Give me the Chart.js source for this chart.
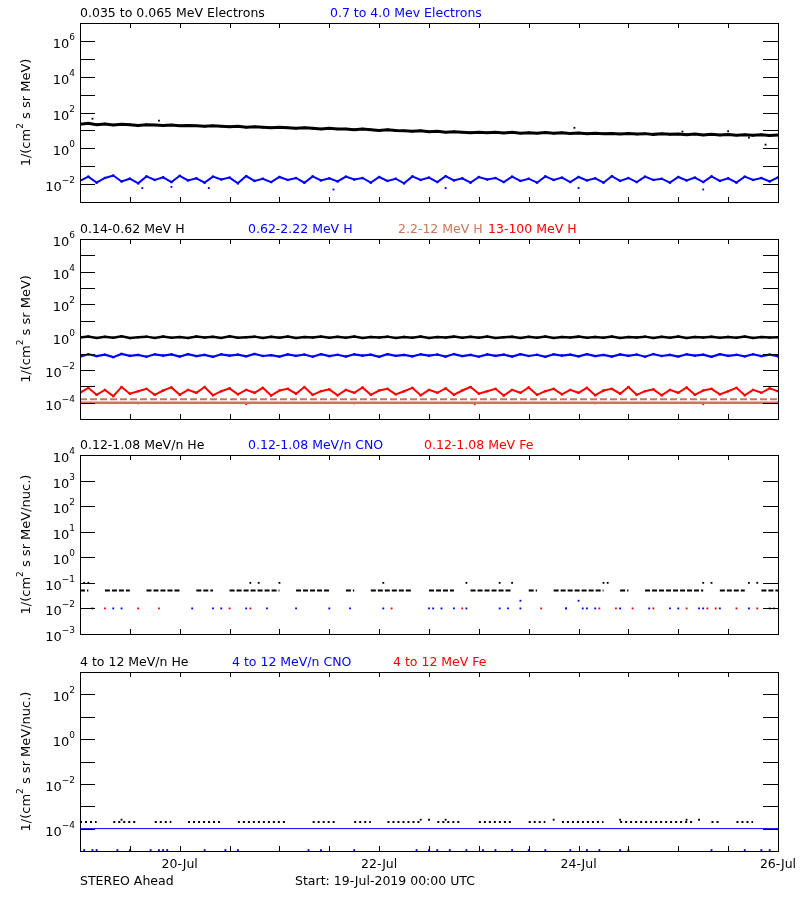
<!DOCTYPE html>
<html lang="en">
<head>
<meta charset="UTF-8">
<title>STEREO Ahead particle fluxes</title>
<script src="https://cdn.jsdelivr.net/npm/chart.js"></script>
<style>
  body { margin: 0; background: #fff; width: 800px; height: 900px; position: relative; overflow: hidden; }
  canvas { position: absolute; left: 0; }
</style>
</head>
<body>
<script>
// ---- data (hours since 19-Jul-2019 00:00 UTC, flux values) ----
const xTickHours = [24, 72, 120, 168];
const xTickLabels = ['20-Jul', '22-Jul', '24-Jul', '26-Jul'];

// panel 1: electrons, samples every 2 h
const e1Black = [22,25,21,23,20,22,21,19,21,20,19,20,18,19,18,17,18,17,16,17,15,16,15,14,15,14,13,14,13,12,13,12,12,11,12,11,10,11,10,9.5,9,9.5,8.5,9,8,8.5,8,7.5,8,7.4,8,7.2,7.8,7,7.5,7,7.6,7,7.4,6.8,7.2,6.6,7,6.5,6.8,6.3,6.7,6.2,6.6,6,6.4,6,6.3,5.8,6.2,5.6,6,5.5,5.9,5.4,5.8,5.3,5.7,5.2,5.5];
const e1Blue = [0.015,0.026,0.012,0.022,0.03,0.014,0.02,0.011,0.027,0.017,0.024,0.013,0.029,0.016,0.021,0.012,0.026,0.018,0.023,0.011,0.028,0.015,0.02,0.013,0.025,0.017,0.022,0.012,0.027,0.016,0.021,0.014,0.026,0.018,0.022,0.012,0.025,0.015,0.02,0.011,0.027,0.017,0.023,0.013,0.028,0.016,0.021,0.012,0.025,0.018,0.022,0.013,0.026,0.015,0.02,0.012,0.027,0.017,0.023,0.013,0.025,0.016,0.021,0.012,0.028,0.015,0.022,0.013,0.026,0.017,0.02,0.012,0.025,0.016,0.023,0.013,0.027,0.015,0.021,0.012,0.026,0.017,0.022,0.014,0.024];
const e1BlackOutliers = [[3,45],[19,35],[72,10],[119,14],[145,8.5],[156,9],[165,1.6],[161,4]];
const e1BlueOutliers = [[15,0.006],[22,0.007],[31,0.006],[61,0.005],[88,0.006],[120,0.006],[150,0.005]];

// panel 2: protons
const hBlack = [0.95,1.1,0.9,1.05,0.92,1.12,0.88,1.0,1.08,0.9,1.1,0.93,1.02,0.89,1.1,0.95,1.05,0.9,1.12,0.92,1.0,1.08,0.9,1.05,0.94,1.1,0.89,1.02,0.95,1.09,0.91,1.05,0.93,1.1,0.9,1.03,0.96,1.08,0.9,1.04,0.93,1.1,0.89,1.02,0.95,1.08,0.91,1.05,0.94,1.1,0.9,1.0,1.07,0.9,1.05,0.93,1.1,0.9,1.03,0.95,1.08,0.91,1.04,0.94,1.1,0.9,1.02,0.96,1.08,0.9,1.05,0.93,1.1,0.89,1.03,0.95,1.07,0.91,1.04,0.94,1.09,0.9,1.02,0.95,1.0];
const hBlue = [0.065,0.09,0.07,0.085,0.06,0.095,0.072,0.082,0.064,0.09,0.075,0.088,0.066,0.092,0.07,0.083,0.063,0.09,0.074,0.086,0.068,0.094,0.071,0.08,0.065,0.089,0.073,0.087,0.064,0.091,0.07,0.084,0.066,0.09,0.075,0.085,0.063,0.092,0.072,0.082,0.067,0.09,0.074,0.087,0.065,0.093,0.07,0.083,0.064,0.089,0.073,0.086,0.066,0.091,0.071,0.084,0.063,0.09,0.075,0.086,0.067,0.092,0.07,0.082,0.065,0.089,0.073,0.087,0.064,0.093,0.071,0.083,0.066,0.09,0.074,0.085,0.063,0.091,0.072,0.084,0.067,0.09,0.07,0.086,0.068];
const hRed = [0.0004,0.0008,0.0003,0.0006,0.00025,0.0009,0.00035,0.0005,0.0007,0.0003,0.00055,0.00085,0.0003,0.0006,0.0004,0.0009,0.00028,0.0005,0.00075,0.00032,0.0006,0.0004,0.0008,0.00027,0.00055,0.0007,0.00035,0.0009,0.0003,0.0005,0.00065,0.00028,0.0006,0.0004,0.00085,0.0003,0.00055,0.0007,0.00032,0.0005,0.0008,0.00028,0.0006,0.0004,0.00075,0.0003,0.00055,0.0009,0.00035,0.0005,0.0007,0.00027,0.0006,0.0004,0.00085,0.0003,0.0005,0.0007,0.00032,0.0006,0.0004,0.0008,0.00028,0.00055,0.0007,0.00035,0.0009,0.0003,0.0005,0.00065,0.00028,0.0006,0.0004,0.00085,0.0003,0.00055,0.0007,0.00032,0.0005,0.0008,0.00028,0.0006,0.0004,0.00075,0.0005];
const hBrownLow = 0.0001;
const hBrownHigh = 0.00016;
const hRedOutliers = [[14,0.00009],[40,0.00008],[66,0.00009],[95,0.00008],[124,0.00009],[150,0.00008]];

// panel 3: 0.12-1.08 MeV/n heavy ions (null = no data)
const lowHe = [0.05,0.05,null,0.05,0.05,0.05,0.05,null,0.05,0.05,0.05,0.05,0.05,null,0.05,0.05,0.05,null,0.05,0.05,0.05,0.05,0.05,0.05,0.05,null,0.05,0.05,0.05,0.05,0.05,null,0.05,0.05,null,0.05,0.05,0.05,0.05,0.05,0.05,null,0.05,0.05,0.05,0.05,null,0.05,0.05,0.05,0.05,0.05,0.05,null,0.05,0.05,null,0.05,0.05,0.05,0.05,0.05,0.05,0.05,null,0.05,0.05,null,0.05,0.05,0.05,0.05,0.05,0.05,0.05,0.05,null,0.05,0.05,0.05,0.05,null,0.05,0.05,0.05];
const lowHeHigh = [1,2,41,43,48,73,93,101,104,126,127,150,152,161,163,175];
const lowCnoHours = [3,8,10,27,32,34,40,45,52,60,65,73,84,85,87,90,93,101,103,106,117,121,122,124,130,137,142,144,149,150,154,161,166];
const lowCnoHigh = [106,120];
const lowFeHours = [6,14,19,36,41,75,92,111,117,125,129,133,138,146,151,153,158,163,167];

// panel 4: 4-12 MeV/n heavy ions
const hiHe = [0.0002,0.0002,0.0002,null,0.0002,0.0002,0.0002,0.0002,null,0.0002,0.0002,0.0002,null,0.0002,0.0002,0.0002,0.0002,0.0002,null,0.0002,0.0002,0.0002,0.0002,0.0002,0.0002,0.0002,null,null,0.0002,0.0002,0.0002,0.0002,null,0.0002,0.0002,0.0002,null,0.0002,0.0002,0.0002,0.0002,0.0002,null,0.0002,0.0002,0.0002,0.0002,null,0.0002,0.0002,0.0002,0.0002,0.0002,null,0.0002,0.0002,0.0002,null,0.0002,0.0002,0.0002,0.0002,0.0002,0.0002,null,0.0002,0.0002,0.0002,0.0002,0.0002,0.0002,0.0002,0.0002,0.0002,0.0002,null,0.0002,0.0002,null,0.0002,0.0002,0.0002,null,0.0002,null];
const hiHeHigh = [10,82,84,88,114,130,146,149];
const hiCnoLine = 0.0001;
const hiCnoLowHours = [1,3,4,9,12,17,19,20,21,30,35,38,55,58,66,81,84,86,89,93,97,100,104,108,112,118,122,125,130,132,152,160,164,166];
const hiCnoLowValue = 0.000011;
</script>
<script>
const FONT = '"DejaVu Sans", sans-serif';
const PANELS = [
  { top: 23, bottom: 202, min: 1e-3, max: 1e7, ticks: [-3,-2,-1,0,1,2,3,4,5,6,7], labels: [-2,0,2,4,6], unit: 'MeV' },
  { top: 239, bottom: 419, min: 1e-5, max: 1e6, ticks: [-5,-4,-3,-2,-1,0,1,2,3,4,5,6], labels: [-4,-2,0,2,4,6], unit: 'MeV' },
  { top: 455, bottom: 634, min: 1e-3, max: 1e4, ticks: [-3,-2,-1,0,1,2,3,4], labels: [-3,-2,-1,0,1,2,3,4], unit: 'MeV/nuc.' },
  { top: 672, bottom: 851, min: 1e-5, max: 1e3, ticks: [-5,-4,-3,-2,-1,0,1,2,3], labels: [-4,-2,0,2], unit: 'MeV/nuc.' }
];
const LEFT = 80, RIGHT = 777, PAD = 30;
const step = 168 / (e1Black.length - 1);
const series = arr => arr.map((v, i) => ({ x: i * step, y: v }));
const pts = list => list.map(p => ({ x: p[0], y: p[1] }));
const at = (hours, v) => hours.map(h => ({ x: h, y: v }));

function supText(ctx, exp, xr, y) {
  const e = exp < 0 ? '\u2212' + (-exp) : String(exp);
  ctx.textAlign = 'left';
  ctx.textBaseline = 'alphabetic';
  ctx.font = '9px ' + FONT;
  const we = ctx.measureText(e).width;
  ctx.fillText(e, xr - we, y - 1);
  ctx.font = '13px ' + FONT;
  const wb = ctx.measureText('10').width;
  ctx.fillText('10', xr - we - wb, y + 7);
}

const frame = {
  id: 'frame',
  afterDraw(chart) {
    const ctx = chart.ctx, a = chart.chartArea, xs = chart.scales.x, ys = chart.scales.y;
    const p = chart.options.plugins.frame;
    ctx.save();
    ctx.strokeStyle = '#000'; ctx.fillStyle = '#000'; ctx.lineWidth = 1;
    ctx.strokeRect(a.left + 0.5, a.top + 0.5, a.right - a.left, a.bottom - a.top);
    ctx.beginPath();
    for (let h = 12; h < 168; h += 12) {
      const x = Math.round(xs.getPixelForValue(h)) + 0.5;
      ctx.moveTo(x, a.bottom); ctx.lineTo(x, a.bottom - 5);
      ctx.moveTo(x, a.top); ctx.lineTo(x, a.top + 5);
    }
    p.ticks.forEach(e => {
      const y = Math.round(ys.getPixelForValue(Math.pow(10, e))) + 0.5;
      if (y <= a.top + 1 || y >= a.bottom - 1) return;
      ctx.moveTo(a.left, y); ctx.lineTo(a.left + 15, y);
      ctx.moveTo(a.right, y); ctx.lineTo(a.right - 15, y);
    });
    ctx.stroke();
    p.labels.forEach(e => supText(ctx, e, a.left - 5, ys.getPixelForValue(Math.pow(10, e))));
    // y axis title
    ctx.save();
    ctx.translate(26, (a.top + a.bottom) / 2);
    ctx.rotate(-Math.PI / 2);
    ctx.textAlign = 'left';
    ctx.font = '13px ' + FONT;
    const t1 = '1/(cm', t2 = ' s sr ' + p.unit + ')';
    const w1 = ctx.measureText(t1).width, w2 = ctx.measureText(t2).width;
    ctx.font = '9px ' + FONT;
    const ws = ctx.measureText('2').width;
    const x0 = -(w1 + ws + w2) / 2;
    ctx.font = '13px ' + FONT;
    ctx.fillText(t1, x0, 4);
    ctx.font = '9px ' + FONT;
    ctx.fillText('2', x0 + w1, -3);
    ctx.font = '13px ' + FONT;
    ctx.fillText(t2, x0 + w1 + ws, 4);
    ctx.restore();
    // titles
    ctx.font = '12.5px ' + FONT; ctx.textAlign = 'left';
    p.titles.forEach(t => { ctx.fillStyle = t[2]; ctx.fillText(t[0], t[1], a.top - 6); });
    if (p.xlabels) {
      ctx.fillStyle = '#000'; ctx.textAlign = 'center';
      xTickHours.forEach((h, i) => ctx.fillText(xTickLabels[i], xs.getPixelForValue(h), a.bottom + 17));
      ctx.textAlign = 'left';
      ctx.fillText('STEREO Ahead', 80, a.bottom + 34);
      ctx.fillText('Start: 19-Jul-2019 00:00 UTC', 295, a.bottom + 34);
    }
    ctx.restore();
  }
};

const line = (data, color, w, extra) => Object.assign({ type: 'line', data, borderColor: color, borderWidth: w, pointRadius: 0, spanGaps: false, tension: 0 }, extra || {});
const band = (data, color, w) => line(data, color, w, { pointRadius: 1.6, pointStyle: 'rect', backgroundColor: color, pointBorderWidth: 0 });
const dots = (data, color, r) => ({ type: 'scatter', data, backgroundColor: color, borderWidth: 0, pointStyle: 'rect', pointRadius: r || 1.3 });

const BROWN = '#c8785a';
const datasets = [
  [ band(series(e1Black), '#000', 3), dots(pts(e1BlackOutliers), '#000'),
    band(series(e1Blue), '#0000ff', 2), dots(pts(e1BlueOutliers), '#0000ff') ],
  [ line(at([0, 168], hBrownLow), BROWN, 2.5), line(at([0, 168], hBrownHigh), BROWN, 2, { borderDash: [7, 3] }),
    band(series(hRed), '#ff0000', 2), dots(pts(hRedOutliers), '#ff0000'),
    band(series(hBlue), '#0000ff', 2.2), band(series(hBlack), '#000', 2.5) ],
  [ line(series(lowHe), '#000', 2, { borderDash: [5, 2] }), dots(at(lowHeHigh, 0.1), '#000'),
    dots(at(lowCnoHours, 0.01), '#0000ff'), dots(at(lowCnoHigh, 0.02), '#0000ff'),
    dots(at(lowFeHours, 0.01), '#ff0000') ],
  [ line(at([0, 168], hiCnoLine), '#0000ff', 1), line(series(hiHe), '#000', 2, { borderDash: [2, 3] }),
    dots(at(hiHeHigh, 0.00025), '#000'), dots(at(hiCnoLowHours, hiCnoLowValue), '#0000ff') ]
];
const titles = [
  [['0.035 to 0.065 MeV Electrons', 80, '#000'], ['0.7 to 4.0 Mev Electrons', 330, '#0000ff']],
  [['0.14-0.62 MeV H', 80, '#000'], ['0.62-2.22 MeV H', 248, '#0000ff'], ['2.2-12 MeV H', 398, BROWN], ['13-100 MeV H', 488, '#ff0000']],
  [['0.12-1.08 MeV/n He', 80, '#000'], ['0.12-1.08 MeV/n CNO', 248, '#0000ff'], ['0.12-1.08 MeV Fe', 424, '#ff0000']],
  [['4 to 12 MeV/n He', 80, '#000'], ['4 to 12 MeV/n CNO', 232, '#0000ff'], ['4 to 12 MeV Fe', 393, '#ff0000']]
];

PANELS.forEach((p, i) => {
  const last = i === PANELS.length - 1;
  const extra = last ? 48 : 8;
  const c = document.createElement('canvas');
  c.width = 800; c.height = p.bottom - p.top + PAD + extra;
  c.style.top = (p.top - PAD) + 'px';
  document.body.appendChild(c);
  new Chart(c, {
    data: { datasets: datasets[i] },
    options: {
      responsive: false, animation: false, events: [],
      layout: { padding: { left: LEFT, right: 800 - RIGHT - 1, top: PAD, bottom: extra } },
      scales: {
        x: { type: 'linear', min: 0, max: 168, display: false },
        y: { type: 'logarithmic', min: p.min, max: p.max, display: false }
      },
      plugins: {
        legend: { display: false }, tooltip: { enabled: false },
        frame: { ticks: p.ticks, labels: p.labels, unit: p.unit, titles: titles[i], xlabels: last }
      }
    },
    plugins: [frame]
  });
});
</script>
</body>
</html>
